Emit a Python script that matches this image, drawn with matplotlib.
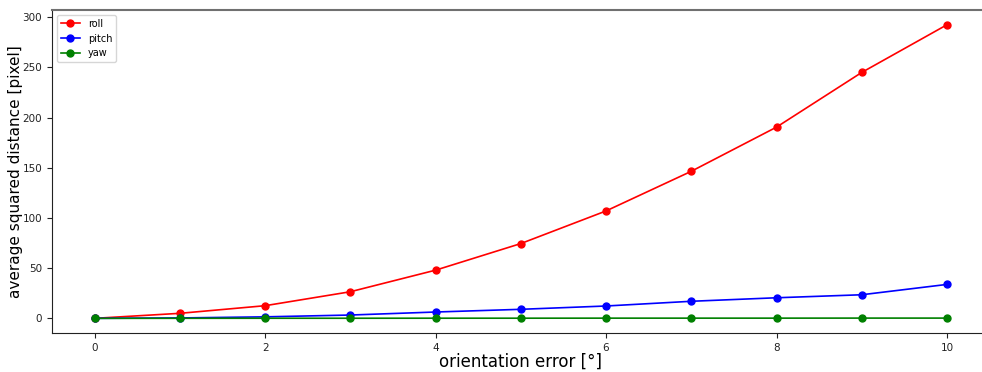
import matplotlib
matplotlib.use("Agg")
import matplotlib.pyplot as plt

# orientation error in degrees
errors = [0, 1, 2, 3, 4, 5, 6, 7, 8, 9, 10]

# average squared distance per rotation axis
roll = [0, 5, 12.6, 26.5, 48, 74.5, 107, 146.5, 190.5, 245, 292.5]
pitch = [0, 0.4, 1.5, 3.3, 6.3, 9, 12.3, 17, 20.5, 23.5, 33.8]
yaw = [0, 0.05, 0.1, 0.1, 0.15, 0.15, 0.2, 0.2, 0.2, 0.25, 0.25]

fig = plt.figure(figsize=(9.82, 3.72), dpi=100)
ax = fig.add_axes([52 / 982, 1 - 333 / 372, (989.6 - 52) / 982, (333 - 10) / 372])

ax.plot(errors, roll, "o-", color="red", label="roll", markersize=5, linewidth=1.2)
ax.plot(errors, pitch, "o-", color="blue", label="pitch", markersize=5, linewidth=1.2)
ax.plot(errors, yaw, "o-", color="green", label="yaw", markersize=5, linewidth=1.2)

ax.set_xlim(-0.5, 10.5)
ax.set_ylim(-14.6, 307.2)
ax.set_xticks([0, 2, 4, 6, 8, 10])
ax.tick_params(labelsize=7.5, colors="#222222")

ax.spines["top"].set_color("#707070")
ax.spines["top"].set_linewidth(1.5)
ax.spines["left"].set_color("#222222")
ax.spines["bottom"].set_color("#222222")

ax.set_xlabel("orientation error [°]", fontsize=12, labelpad=0)
ax.set_ylabel("average squared distance [pixel]", fontsize=11, labelpad=0)
ax.legend(loc="upper left", fontsize=7)

fig.savefig("out.png", dpi=100)
